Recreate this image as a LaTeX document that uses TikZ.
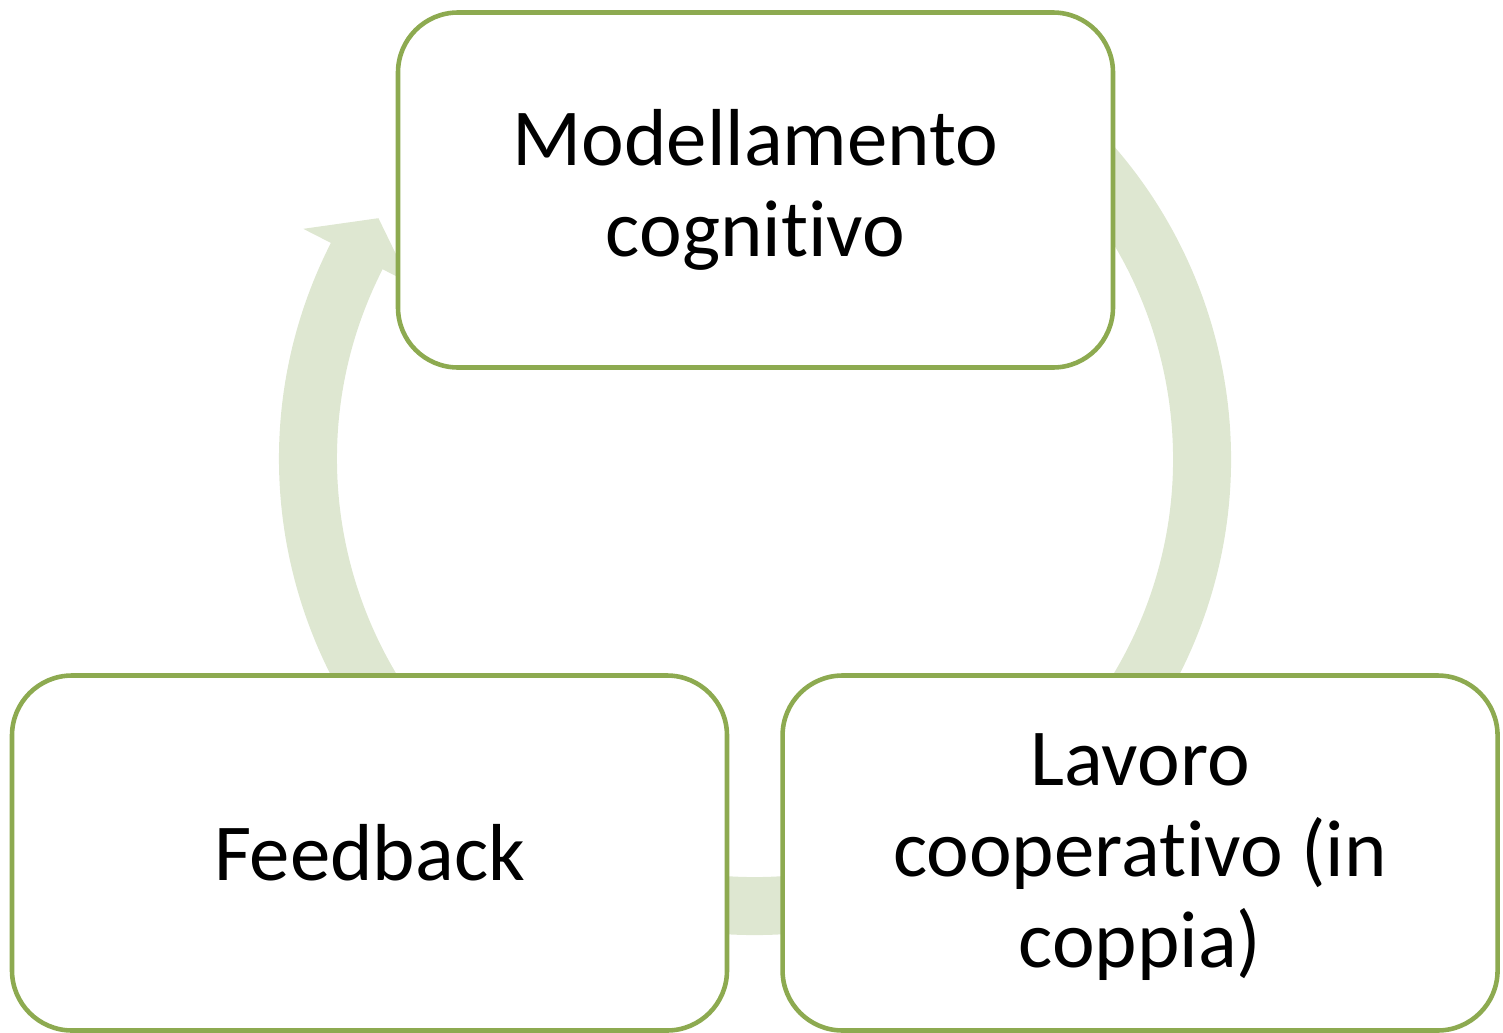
\documentclass[tikz,border=0pt]{standalone}
\usepackage{fontspec}
\setmainfont{Carlito}[Ligatures=NoCommon]
\usetikzlibrary{positioning}
\definecolor{stepline}{RGB}{141,170,80}
\definecolor{ringfill}{RGB}{222,231,209}
\tikzset{
  stepbox/.style={draw=stepline, line width=1.3pt, fill=white, rounded corners=0.6cm,
    minimum width=7.15cm, minimum height=3.55cm, inner sep=0pt, align=center,
    font=\fontsize{23}{26}\selectfont},
  ringband/.style={draw=ringfill, line width=0.58cm}
}

\begin{document}
\begin{tikzpicture}
\useasboundingbox (0,0) rectangle (15.03,10.32);
% cycle arrow behind the boxes
\coordinate (hub) at (7.55,5.73);
\draw[ringband] ([shift={(60:4.47)}]hub) arc[start angle=60, end angle=-207.5, radius=4.47];
\fill[ringfill] ([shift={(153:5.07)}]hub) -- ([shift={(147.4:4.47)}]hub) -- ([shift={(153:3.87)}]hub) -- cycle;

% the three steps
\node[stepbox] (model) at (7.555,8.42) {Modellamento\\cognitivo};
\node[stepbox] (feed) at (3.695,1.79) {Feedback};
\node[stepbox, right=0.51cm of feed, text depth=0.05cm] (coop) {Lavoro\\cooperativo (in\\coppia)};
\end{tikzpicture}
\end{document}
